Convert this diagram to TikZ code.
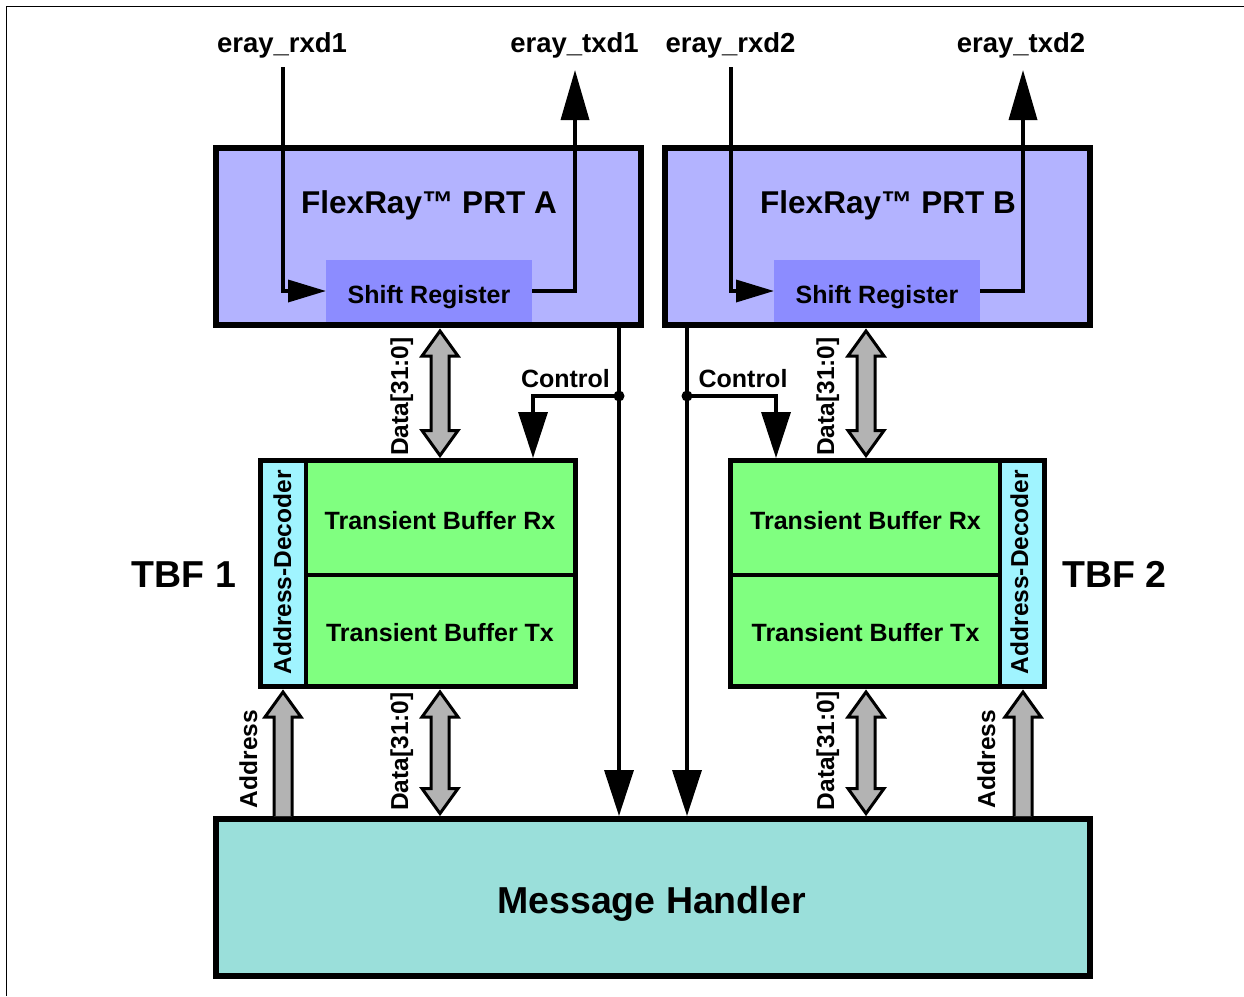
\documentclass[tikz,border=0pt]{standalone}
\usepackage{fontspec}
\setmainfont{Liberation Sans}
\usetikzlibrary{arrows.meta,calc}
\definecolor{lav}{HTML}{B3B3FF}
\definecolor{srcol}{HTML}{8C8CFF}
\definecolor{grn}{HTML}{80FF80}
\definecolor{cyn}{HTML}{A0F4FF}
\definecolor{mhcol}{HTML}{9ADFDA}
\definecolor{busgray}{HTML}{B3B3B3}
\newcommand{\dbus}[3]{%
  \path (#1,0 |- #2) coordinate (bt) (#1,0 |- #3) coordinate (bb);
  \filldraw[bus] ($(bt)+(0,3)$) -- ($(bt)+(18,28)$) -- ($(bt)+(9,28)$) -- ($(bb)+(9,-27.5)$) -- ($(bb)+(18,-27.5)$) -- ($(bb)+(0,-2.5)$) -- ($(bb)+(-18,-27.5)$) -- ($(bb)+(-9,-27.5)$) -- ($(bt)+(-9,28)$) -- ($(bt)+(-18,28)$) -- cycle;}
\newcommand{\abus}[3]{%
  \path (#1,0 |- #2) coordinate (bt) (#1,0 |- #3) coordinate (bb);
  \fill[busgray] ($(bb)+(-9,0)$) -- ($(bt)+(-9,28)$) -- ($(bt)+(-18,28)$) -- ($(bt)+(0,3)$) -- ($(bt)+(18,28)$) -- ($(bt)+(9,28)$) -- ($(bb)+(9,0)$) -- cycle;
  \draw[bus] ($(bb)+(-9,0)$) -- ($(bt)+(-9,28)$) -- ($(bt)+(-18,28)$) -- ($(bt)+(0,3)$) -- ($(bt)+(18,28)$) -- ($(bt)+(9,28)$) -- ($(bb)+(9,0)$);}
\begin{document}
\begin{tikzpicture}[x=1pt,y=-1pt,
  prt/.style={rectangle, draw=black, line width=6pt, fill=lav, minimum width=425pt, minimum height=177pt, inner sep=0pt},
  srbox/.style={rectangle, fill=srcol, minimum width=206pt, minimum height=62pt, inner sep=0pt, outer sep=0pt},
  fbox/.style={rectangle, inner sep=0pt, outer sep=0pt},
  obox/.style={rectangle, draw=black, line width=5pt, inner sep=0pt},
  bus/.style={fill=busgray, draw=black, line width=3pt, line join=miter},
  sig/.style={draw=black, line width=3.5pt, line join=miter},
  tipbig/.style={-{Triangle[length=46pt,width=29pt]}},
  tipup/.style={-{Triangle[length=50pt,width=28pt]}},
  tipsr/.style={-{Triangle[length=38pt,width=22pt]}},
  lblA/.style={anchor=base, inner sep=0pt, font=\bfseries\fontsize{27.5}{30}\selectfont},
  lblT/.style={anchor=base, inner sep=0pt, font=\bfseries\fontsize{31.5}{34}\selectfont},
  lblS/.style={anchor=base, inner sep=0pt, font=\bfseries\fontsize{25}{28}\selectfont},
  lblR/.style={anchor=base, inner sep=0pt, rotate=90, font=\bfseries\fontsize{24.5}{27}\selectfont},
  lblB/.style={anchor=base, inner sep=0pt, font=\bfseries\fontsize{37.5}{40}\selectfont}]
\useasboundingbox (0,0) rectangle (1244,996);
\draw[line width=1pt] (6,996) -- (6,6) -- (1244,6);

% PRT boxes
\node[prt] (prtA) at (428.5,236.5) {};
\node[prt] (prtB) at (877.5,236.5) {};
\node[srbox] (srA) at (429,291) {};
\node[srbox] (srB) at (877,291) {};
\node[lblT] (titleA) at (429,213) {FlexRay™ PRT A};
\node[lblT] (titleB) at (888,213) {FlexRay™ PRT B};
\node[lblS] (srAt) at (429,303.5) {Shift Register};
\node[lblS] (srBt) at (877,303.5) {Shift Register};

% TBF 1
\node[fbox, fill=grn, minimum width=269.5pt, minimum height=114.5pt] (rx1) at (440.75,517.75) {};
\node[fbox, fill=grn, minimum width=269.5pt, minimum height=111.5pt] (tx1) at (440.75,630.75) {};
\node[fbox, fill=cyn, minimum width=45.5pt, minimum height=226pt] (dec1) at (283.25,573.5) {};
\draw[line width=4pt] (dec1.north east) -- (dec1.south east);
\draw[line width=4pt] (rx1.south west) -- (rx1.south east);
\node[obox, minimum width=315pt, minimum height=226pt] (tbf1) at (418,573.5) {};
% TBF 2
\node[fbox, fill=grn, minimum width=269.5pt, minimum height=114.5pt] (rx2) at (865.25,517.75) {};
\node[fbox, fill=grn, minimum width=269.5pt, minimum height=111.5pt] (tx2) at (865.25,630.75) {};
\node[fbox, fill=cyn, minimum width=44.5pt, minimum height=226pt] (dec2) at (1022.25,573.5) {};
\draw[line width=4pt] (dec2.north west) -- (dec2.south west);
\draw[line width=4pt] (rx2.south west) -- (rx2.south east);
\node[obox, minimum width=314pt, minimum height=226pt] (tbf2) at (887.5,573.5) {};

\node[lblS] (rx1t) at (440,529) {Transient Buffer Rx};
\node[lblS] (tx1t) at (440,641) {Transient Buffer Tx};
\node[lblS] (rx2t) at (865.5,529) {Transient Buffer Rx};
\node[lblS] (tx2t) at (865.5,641) {Transient Buffer Tx};
\node[lblR] (dec1t) at (291,572.5) {Address-Decoder};
\node[lblR] (dec2t) at (1028,572) {Address-Decoder};
\node[lblB] (tbf1t) at (184,587) {TBF 1};
\node[lblB] (tbf2t) at (1114.5,587) {TBF 2};

% Message handler
\node[rectangle, draw=black, line width=6pt, fill=mhcol, minimum width=874pt, minimum height=157pt, inner sep=0pt] (mh) at (653,897.5) {};
\node[lblB] (mht) at (651.5,913) {Message Handler};

% external signals
\node[lblA] (rxd1) at (282,52) {eray\_rxd1};
\node[lblA] (txd1) at (574.5,52) {eray\_txd1};
\node[lblA] (rxd2) at (730.5,52) {eray\_rxd2};
\node[lblA] (txd2) at (1021,52) {eray\_txd2};
\coordinate (rxd1e) at (283,67);
\coordinate (txd1e) at (575,70);
\coordinate (rxd2e) at (731,67);
\coordinate (txd2e) at (1023,70);
\draw[sig, tipsr] (rxd1e) |- (srA.west);
\draw[sig, tipup] (srA.east) -| (txd1e);
\draw[sig, tipsr] (rxd2e) |- (srB.west);
\draw[sig, tipup] (srB.east) -| (txd2e);

% control
\coordinate (j1) at (619,396);
\coordinate (j2) at (687,396);
\draw[sig, tipbig] (j1 |- prtA.south) -- (j1 |- mh.north);
\draw[sig, tipbig] (j1) -| (533,0 |- tbf1.north);
\fill (j1) circle (5.5);
\draw[sig, tipbig] (j2 |- prtB.south) -- (j2 |- mh.north);
\draw[sig, tipbig] (j2) -| (776,0 |- tbf2.north);
\fill (j2) circle (5.5);
\node[lblS] (ctl1) at (565.5,387) {Control};
\node[lblS] (ctl2) at (743,387) {Control};

% buses
\dbus{440}{prtA.south}{tbf1.north}
\dbus{440}{tbf1.south}{mh.north}
\dbus{866}{prtB.south}{tbf2.north}
\dbus{866}{tbf2.south}{mh.north}
\abus{283}{tbf1.south}{mh.north}
\abus{1023}{tbf2.south}{mh.north}
\node[lblR] (d1t) at (408,396.5) {Data[31:0]};
\node[lblR] (d1b) at (408,751.5) {Data[31:0]};
\node[lblR] (d2t) at (834,396.5) {Data[31:0]};
\node[lblR] (d2b) at (834,751) {Data[31:0]};
\node[lblR] (a1) at (257,759) {Address};
\node[lblR] (a2) at (995,759) {Address};
\end{tikzpicture}
\end{document}
